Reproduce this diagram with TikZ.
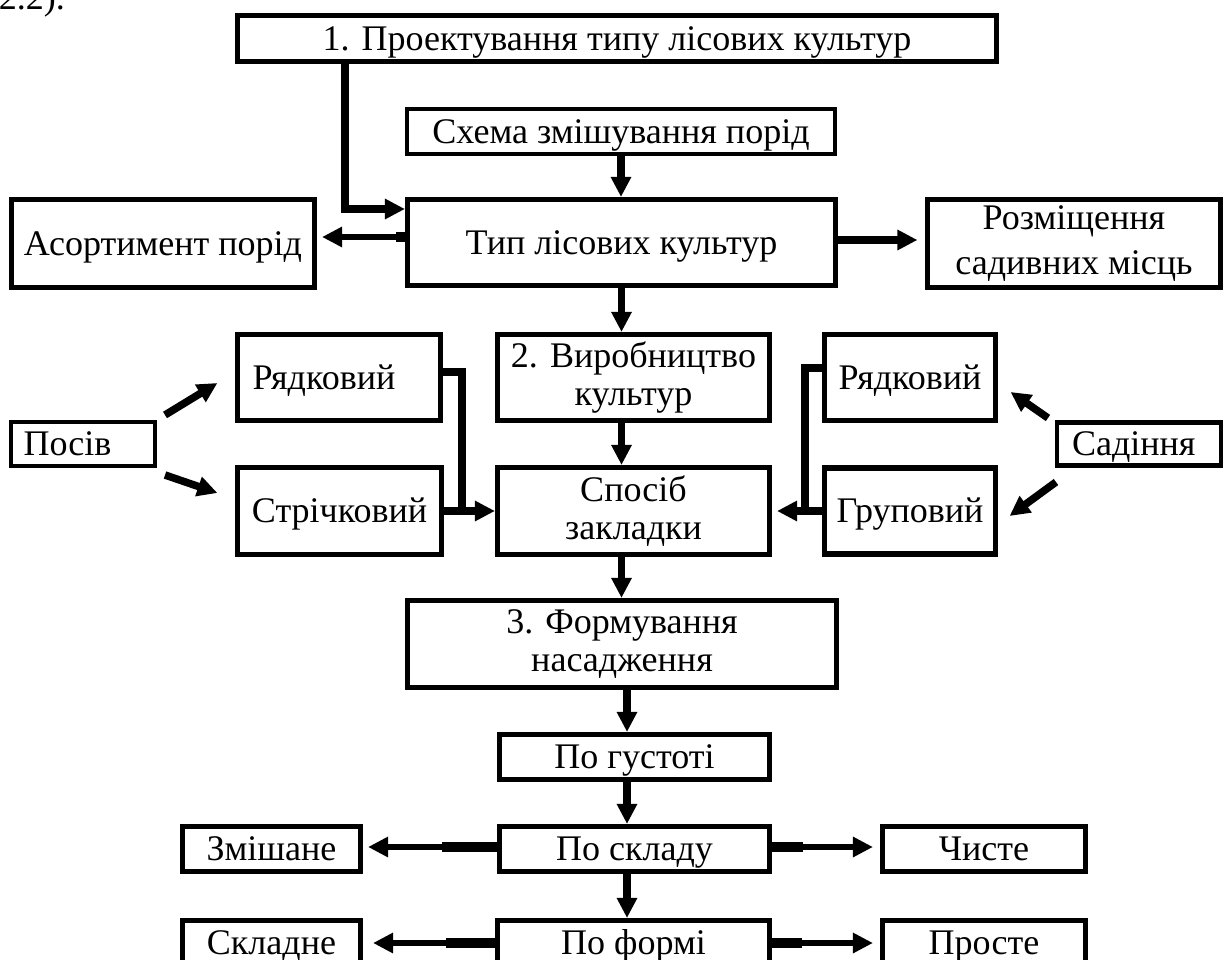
\documentclass[tikz,border=0pt]{standalone}
\usepackage{fontspec}
\setmainfont{Liberation Serif}
\usepackage{tikz}
\usetikzlibrary{arrows.meta,positioning}
\tikzstyle{box} = [draw,line width=2.9pt,inner sep=0pt,align=center,font=\fontsize{20.5}{21.6}\selectfont]
\tikzstyle{one} = [text height=15pt,text depth=1.4pt]
\tikzstyle{thinbox} = [box,line width=2.3pt]
\tikzstyle{lbox} = [align=left,inner xsep=0.3cm]
\tikzstyle{arrow} = [line width=4.3pt,-{Triangle[length=11.4pt,width=11pt]}]
\tikzstyle{thinarrow} = [line width=3.2pt,-{Triangle[length=11.4pt,width=11pt]}]
\tikzstyle{stub} = [line width=5.6pt]
\tikzstyle{joinline} = [line width=4.3pt]

\begin{document}
\begin{tikzpicture}
\useasboundingbox[fill=white] (0,0) rectangle (24.48,-19.2);
\node[font=\fontsize{20.5}{21.6}\selectfont,anchor=base east] (ref) at (1.42,-0.2) {2.2).};
\node[box,one,line width=3.2pt,minimum width=15.18cm,minimum height=0.92cm] (proekt) at (12.34,-0.77) {1. Проектування типу лісових культур};
\node[thinbox,one,minimum width=8.56cm,minimum height=0.90cm] (skhema) at (12.42,-2.63) {Схема змішування порід};
\node[box,one,minimum width=8.56cm,minimum height=1.72cm] (typ) at (12.43,-4.85) {Тип лісових культур};
\node[box,one,minimum width=6.06cm,minimum height=1.76cm] (asort) at (3.26,-4.87) {Асортимент порід};
\node[box,minimum width=5.86cm,minimum height=1.76cm] (rozm) at (21.48,-4.87) {Розміщення\\[4pt]садивних місць};
\node[box,minimum width=5.44cm,minimum height=1.72cm] (vyrob) at (12.67,-7.55) {2. Виробництво\\культур};
\node[box,one,lbox,text width=3.46cm,minimum height=1.72cm] (ryadL) at (6.78,-7.55) {Рядковий};
\node[box,one,minimum width=4.08cm,minimum height=1.74cm] (strich) at (6.79,-10.22) {Стрічковий};
\node[thinbox,one,lbox,inner xsep=0.25cm,text width=2.38cm,minimum height=0.88cm] (posiv) at (1.66,-8.88) {Посів};
\node[box,minimum width=5.44cm,minimum height=1.74cm] (sposib) at (12.67,-10.22) {Спосіб\\закладки};
\node[box,one,minimum width=3.42cm,minimum height=1.72cm] (ryadR) at (18.20,-7.55) {Рядковий};
\node[box,one,minimum width=3.42cm,minimum height=1.72cm] (grup) at (18.20,-10.22) {Груповий};
\node[thinbox,one,lbox,text width=2.68cm,minimum height=0.86cm] (sadinnya) at (22.78,-8.88) {Садіння};
\node[box,minimum width=8.58cm,minimum height=1.74cm] (formuv) at (12.44,-12.88) {3. Формування\\насадження};
\node[box,one,minimum width=5.40cm,minimum height=0.90cm] (gust) at (12.69,-15.14) {По густоті};
\node[box,one,minimum width=5.40cm,minimum height=0.90cm] (sklad) at (12.69,-16.98) {По складу};
\node[box,one,minimum width=3.56cm,minimum height=0.90cm] (zmish) at (5.43,-16.98) {Змішане};
\node[box,one,minimum width=4.06cm,minimum height=0.90cm] (chyste) at (19.68,-16.98) {Чисте};
\node[box,one,minimum width=5.44cm,minimum height=0.90cm] (forma) at (12.67,-18.86) {По формі};
\node[box,one,minimum width=3.56cm,minimum height=0.90cm] (skladne) at (5.43,-18.86) {Складне};
\node[box,one,minimum width=4.06cm,minimum height=0.90cm] (proste) at (19.68,-18.86) {Просте};
\coordinate (c1) at (6.90,0);
\coordinate (axis) at (12.54,0);
\coordinate (jl) at (9.24,-10.22);
\coordinate (jr) at (16.10,-10.22);
\draw[arrow] (c1 |- proekt.south) |- ([yshift=0.67cm]typ.west);
\draw[arrow] (skhema.south) -- (skhema.south |- typ.north);
\draw[thinarrow,shorten >=0.1cm] ([yshift=0.11cm]typ.west) coordinate (a1) -- (asort.east |- a1);
\draw[stub] (a1) -- ++(-0.18,0);
\draw[arrow,shorten >=0.15cm] ([yshift=0.05cm]typ.east) coordinate (a2) -- (rozm.west |- a2);
\draw[arrow] (typ.south) -- (typ.south |- vyrob.north);
\draw[arrow] (vyrob.south -| typ.south) -- (sposib.north -| typ.south);
\draw[arrow] ([xshift=0.16cm,yshift=0.1cm]posiv.north east) -- ([xshift=-0.35cm,yshift=-0.11cm]ryadL.west);
\draw[arrow] ([xshift=0.16cm,yshift=-0.14cm]posiv.south east) -- ([xshift=-0.35cm,yshift=0.36cm]strich.west);
\draw[arrow] ([xshift=-0.14cm,yshift=0.05cm]sadinnya.north west) -- ([xshift=0.25cm,yshift=-0.29cm]ryadR.east);
\draw[arrow] ([xshift=0.02cm,yshift=-0.29cm]sadinnya.south west) -- ([xshift=0.23cm,yshift=-0.1cm]grup.east);
\draw[joinline] ([yshift=0.11cm]ryadL.east) -| (jl);
\draw[arrow] (strich.east) -- (sposib.west);
\draw[joinline] ([yshift=0.19cm]ryadR.west) -| (jr);
\draw[arrow,shorten >=0.1cm] (grup.west) -- (sposib.east);
\draw[arrow] (sposib.south -| typ.south) -- (formuv.north -| typ.south);
\draw[arrow] (formuv.south -| axis) -- (gust.north -| axis);
\draw[arrow] (gust.south -| axis) -- (sklad.north -| axis);
\draw[arrow] (sklad.south -| axis) -- (forma.north -| axis);
\draw[thinarrow,shorten >=0.1cm] ([yshift=0.04cm]sklad.west) coordinate (b1) -- (zmish.east |- b1);
\draw[stub] (b1) -- ++(-1.1,0);
\draw[thinarrow,shorten >=0.14cm] ([yshift=0.04cm]sklad.east) coordinate (b2) -- (chyste.west |- b2);
\draw[stub] (b2) -- ++(0.62,0);
\draw[thinarrow,shorten >=0.2cm] (forma.west) -- (skladne.east);
\draw[stub] (forma.west) -- ++(-0.98,0);
\draw[thinarrow,shorten >=0.14cm] (forma.east) -- (proste.west);
\draw[stub] (forma.east) -- ++(0.6,0);
\end{tikzpicture}
\end{document}
